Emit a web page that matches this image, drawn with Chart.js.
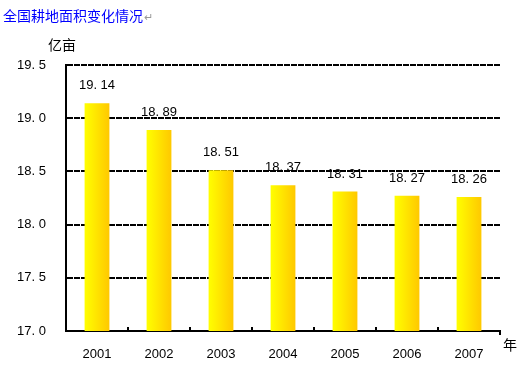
<!DOCTYPE html>
<html>
<head>
  <title>全国耕地面积变化情况</title>
  <script src="https://cdn.jsdelivr.net/npm/chart.js"></script>
  <style>
    body { margin: 0; background: #fff; }
    #wrap { position: relative; width: 520px; height: 369px; }
  </style>
</head>
<body>
  <div id="wrap"><canvas id="landChart" width="520" height="369"></canvas></div>

  <script>
    const years = ["2001", "2002", "2003", "2004", "2005", "2006", "2007"];
    const area = [19.14, 18.89, 18.51, 18.37, 18.31, 18.27, 18.26];
    const yTicks = [17.0, 17.5, 18.0, 18.5, 19.0, 19.5];

    const titleText = "全国耕地面积变化情况";
    const yUnit = "亿亩";
    const xUnit = "年";

    const cjk = '"Noto Sans CJK SC", sans-serif';
    const numFont = '"Liberation Sans", Arial, sans-serif';

    function fmt(v, d) {
      return v.toFixed(d).replace(".", ". ");
    }

    const extras = {
      id: "extras",
      // yellow-to-gold gradient across each bar, once bars have positions
      beforeDatasetsDraw(chart) {
        const c = chart.ctx;
        chart.getDatasetMeta(0).data.forEach(bar => {
          const w = bar.width;
          if (!isFinite(bar.x) || !isFinite(w)) return;
          const g = c.createLinearGradient(bar.x - w / 2, 0, bar.x + w / 2, 0);
          g.addColorStop(0, "#FFFF00");
          g.addColorStop(1, "#FFC800");
          bar.options = Object.assign({}, bar.options, { backgroundColor: g });
        });
      },
      afterDatasetsDraw(chart) {
        const c = chart.ctx;
        const meta = chart.getDatasetMeta(0);
        c.save();
        c.fillStyle = "#000";
        c.font = "13px " + numFont;
        c.textAlign = "center";
        c.textBaseline = "bottom";
        meta.data.forEach((bar, i) => {
          c.fillText(fmt(area[i], 2), bar.x, bar.y - 11);
        });
        c.restore();
      },
      afterDraw(chart) {
        const c = chart.ctx;
        const xs = chart.scales.x;
        const ca = chart.chartArea;
        c.save();
        // small ticks between categories
        c.strokeStyle = "#000";
        c.lineWidth = 2;
        const step = xs.width / years.length;
        for (let i = 0; i < years.length - 1; i++) {
          const x = xs.getPixelForValue(i) + step / 2;
          c.beginPath();
          c.moveTo(x, ca.bottom);
          c.lineTo(x, ca.bottom - 4);
          c.stroke();
        }
        c.beginPath();
        c.moveTo(ca.right, ca.bottom);
        c.lineTo(ca.right, ca.bottom + 4);
        c.stroke();

        // title and units
        c.fillStyle = "#0000FF";
        c.font = "14px " + cjk;
        c.textBaseline = "middle";
        c.textAlign = "left";
        c.fillText(titleText, 3, 16);
        const tw = c.measureText(titleText).width;
        c.fillStyle = "#999";
        c.font = "11px " + cjk;
        c.fillText("↵", 4 + tw, 17);

        c.fillStyle = "#000";
        c.font = "14px " + cjk;
        c.fillText(yUnit, 48, 45);
        c.fillText(xUnit, 503, 345);
        c.restore();
      }
    };

    new Chart(document.getElementById("landChart"), {
      type: "bar",
      data: {
        labels: years,
        datasets: [{
          data: area,
          backgroundColor: ctx => "#FFE000",
          borderWidth: 0,
          barPercentage: 0.4,
          categoryPercentage: 1.0
        }]
      },
      plugins: [extras],
      options: {
        responsive: false,
        animation: false,
        layout: { padding: { top: 65, right: 20, left: 0, bottom: 0 } },
        plugins: {
          legend: { display: false },
          tooltip: { enabled: false }
        },
        scales: {
          x: {
            grid: { display: false, drawTicks: false },
            border: { color: "#000", width: 2 },
            ticks: {
              color: "#000",
              font: { size: 13, family: numFont },
              padding: 16
            },
            afterFit(scale) { scale.height = 38; }
          },
          y: {
            min: 17,
            max: 19.5,
            afterBuildTicks(scale) {
              scale.ticks = yTicks.map(v => ({ value: v }));
            },
            grid: {
              color: "#000",
              lineWidth: 2,
              drawTicks: false
            },
            border: { color: "#000", width: 2, dash: [6, 1] },
            ticks: {
              color: "#000",
              font: { size: 13, family: numFont },
              padding: 20,
              callback: v => fmt(v, 1)
            },
            afterFit(scale) { scale.width = 66; }
          }
        }
      }
    });
  </script>
</body>
</html>
